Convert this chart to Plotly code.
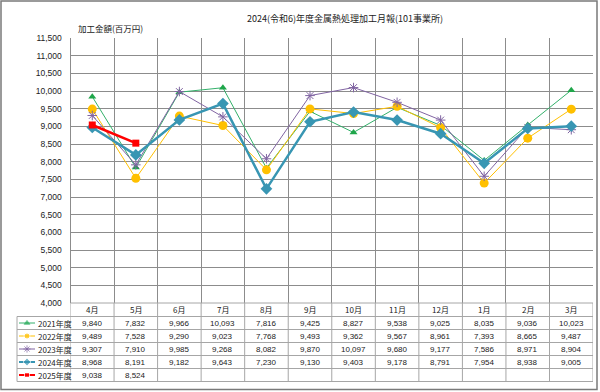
import plotly.graph_objects as go

# ---------------- data ----------------
months = ["4月", "5月", "6月", "7月", "8月", "9月", "10月", "11月", "12月", "1月", "2月", "3月"]
series_names = ["2021年度", "2022年度", "2023年度", "2024年度", "2025年度"]
v2021 = [9840, 7832, 9966, 10093, 7816, 9425, 8827, 9538, 9025, 8035, 9036, 10023]
v2022 = [9489, 7528, 9290, 9023, 7768, 9493, 9362, 9567, 8961, 7393, 8665, 9487]
v2023 = [9307, 7910, 9985, 9268, 8082, 9870, 10097, 9680, 9177, 7586, 8971, 8904]
v2024 = [8968, 8191, 9182, 9643, 7230, 9130, 9403, 9178, 8791, 7954, 8938, 9005]
v2025 = [9038, 8524]
all_values = [v2021, v2022, v2023, v2024, v2025]

title_text = "2024(令和6)年度金属熱処理加工月報(101事業所)"
ytitle_text = "加工金額(百万円)"

# ---------------- layout geometry (pixels) ----------------
W, H = 600, 392
PL, PR, PT, PB = 70.5, 593, 38, 303
HEADER_BOTTOM = 316.5
ROW_H = 13
LEG_LEFT = 17

GRID = "#8c8c8c"
TABLE = "#a6a6a6"
JP = "Noto Sans CJK JP"
NUM = "Liberation Sans, Arial"

styles = [
    dict(color="#33B06A", mcolor="#1FA64A", width=1, symbol="triangle-up", size=7, lsize=5),
    dict(color="#FFC000", mcolor="#FFC000", width=1, symbol="circle", size=9, lsize=6),
    dict(color="#8064A2", mcolor="#8064A2", width=1, symbol="asterisk-open", size=8, lsize=6),
    dict(color="#3896B3", mcolor="#3896B3", width=2.5, symbol="diamond", size=9, lsize=6),
    dict(color="#FF0000", mcolor="#FF0000", width=2.5, symbol="square", size=7, lsize=5),
]

fig = go.Figure()

for name, vals, st in zip(series_names, all_values, styles):
    mk = dict(color=st["mcolor"], size=st["size"], symbol=st["symbol"])
    if "open" in st["symbol"]:
        mk["line"] = dict(color=st["mcolor"], width=1)
    fig.add_trace(go.Scatter(
        x=months[:len(vals)], y=vals, name=name, mode="lines+markers",
        line=dict(color=st["color"], width=st["width"]),
        marker=mk, showlegend=False, cliponaxis=False,
        xaxis="x", yaxis="y",
    ))

# legend swatches in the data-table column (pixel overlay axes)
for i, (name, st) in enumerate(zip(series_names, styles)):
    yc = HEADER_BOTTOM + ROW_H * i + ROW_H / 2
    mk = dict(color=st["mcolor"], size=[0, st["lsize"], 0], symbol=st["symbol"])
    if "open" in st["symbol"]:
        mk["line"] = dict(color=st["mcolor"], width=1)
    fig.add_trace(go.Scatter(
        x=[19, 27, 35], y=[yc, yc, yc], mode="lines+markers",
        line=dict(color=st["color"], width=min(st["width"], 2)),
        marker=mk, showlegend=False, cliponaxis=False, hoverinfo="skip",
        xaxis="x2", yaxis="y2",
    ))

shapes = []
annotations = []

# table horizontal lines
n_rows = len(series_names)
for r in range(n_rows + 1):
    y = HEADER_BOTTOM + ROW_H * r
    shapes.append(dict(type="line", xref="x2", yref="y2", x0=LEG_LEFT, x1=PR, y0=y, y1=y,
                       line=dict(color=TABLE, width=1)))
shapes.append(dict(type="line", xref="x2", yref="y2", x0=PL, x1=PR, y0=PB, y1=PB,
                   line=dict(color=TABLE, width=1)))
# table vertical lines at category boundaries
table_bottom = HEADER_BOTTOM + ROW_H * n_rows
for k in range(len(months) + 1):
    shapes.append(dict(type="line", xref="x", yref="y2", x0=k - 0.5, x1=k - 0.5,
                       y0=PB, y1=table_bottom, line=dict(color=TABLE, width=1)))
shapes.append(dict(type="line", xref="x2", yref="y2", x0=LEG_LEFT, x1=LEG_LEFT,
                   y0=HEADER_BOTTOM, y1=table_bottom, line=dict(color=TABLE, width=1)))
# outer frame
shapes.append(dict(type="rect", xref="x2", yref="y2", x0=1, x1=597, y0=1, y1=389.5,
                   line=dict(color="#7a7a7a", width=1.5)))

# header months
for m in months:
    annotations.append(dict(x=m, y=(PB + HEADER_BOTTOM) / 2, xref="x", yref="y2", text=m,
                            showarrow=False, font=dict(family=JP, size=8, color="#222")))
# values
for i, vals in enumerate(all_values):
    yc = HEADER_BOTTOM + ROW_H * i + ROW_H / 2
    for m, v in zip(months, vals):
        annotations.append(dict(x=m, y=yc, xref="x", yref="y2", text=f"{v:,}",
                                showarrow=False, font=dict(family=NUM, size=8, color="#222")))
    annotations.append(dict(x=36, y=yc, xref="x2", yref="y2", text=series_names[i],
                            xanchor="left", showarrow=False,
                            font=dict(family=JP, size=8, color="#222")))

annotations.append(dict(x=345, y=18, xref="x2", yref="y2", text=title_text, showarrow=False,
                        font=dict(family=JP, size=9, color="#222")))
annotations.append(dict(x=110, y=28, xref="x2", yref="y2", text=ytitle_text, showarrow=False,
                        font=dict(family=JP, size=8.5, color="#222")))

fig.update_layout(
    width=W, height=H,
    margin=dict(l=0, r=0, t=0, b=0, autoexpand=False),
    paper_bgcolor="white", plot_bgcolor="rgba(0,0,0,0)",
    hovermode=False,
    xaxis=dict(type="category", domain=[PL / W, PR / W], range=[-0.5, 11.499],
               tickson="boundaries", showgrid=True, gridcolor=GRID, gridwidth=1,
               showticklabels=False, ticks="", showline=False, zeroline=False,
               categoryorder="array", categoryarray=months, anchor="y"),
    yaxis=dict(domain=[(H - PB) / H, (H - PT) / H], range=[4000, 11500], dtick=500, tick0=4000,
               tickformat=",", showgrid=True, gridcolor=GRID, gridwidth=1,
               showline=True, linecolor=GRID, linewidth=1, ticks="", zeroline=False,
               ticklabelstandoff=6, tickfont=dict(family=NUM, size=8.5, color="#222"),
               anchor="x", automargin=False),
    xaxis2=dict(domain=[0, 1], range=[0, W], visible=False, anchor="y2", fixedrange=True),
    yaxis2=dict(domain=[0, 1], range=[H, 0], visible=False, anchor="x2", fixedrange=True),
    shapes=shapes, annotations=annotations,
)

fig.write_html("out.html", config={"displayModeBar": False},
               post_script="document.body.style.margin='0px';document.body.style.overflow='hidden';")
